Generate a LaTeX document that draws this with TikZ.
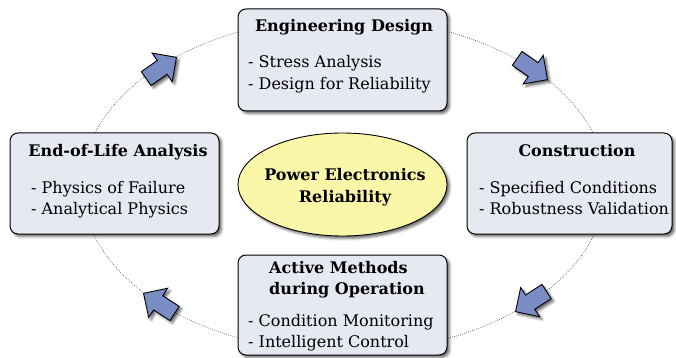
\documentclass[tikz,border=0pt]{standalone}
\usepackage{fontspec}
\setmainfont{DejaVu Serif}
\usetikzlibrary{shapes.geometric,shapes.arrows,shadows.blur}
\definecolor{boxfill}{RGB}{230,232,242}
\definecolor{ellfill}{RGB}{250,248,168}
\definecolor{arrfill}{RGB}{122,140,196}
\begin{document}
\begin{tikzpicture}[x=1pt,y=-1pt,
  shad/.style={blur shadow={shadow xshift=2.5pt, shadow yshift=-2.5pt, shadow blur radius=2.5pt, shadow opacity=60}},
  stage/.style={draw=black, line width=1pt, fill=boxfill, rounded corners=8pt, inner sep=0pt, shad},
  centre/.style={ellipse, draw=black, line width=0.9pt, fill=ellfill, inner sep=0pt, minimum width=209pt, minimum height=103pt, shad},
  flow/.style={single arrow, draw=black, line width=0.9pt, fill=arrfill, inner sep=8pt, minimum height=37pt, single arrow head extend=9pt, anchor=tip, shad},
  ttl/.style={font=\fontsize{16}{19}\selectfont\bfseries, anchor=base, inner sep=0pt},
  ttlw/.style={font=\fontsize{16}{19}\selectfont\bfseries, anchor=base west, inner sep=0pt},
  itm/.style={font=\fontsize{16}{19}\selectfont, anchor=base west, inner sep=0pt},
  loop/.style={draw=black!75, line width=0.6pt, dash pattern=on 0.7pt off 1.4pt}
]
\useasboundingbox (0,0) rectangle (676,358);
\path[loop] (344,185) ellipse [x radius=262, y radius=167];

\node[stage, minimum width=209pt, minimum height=102pt] (eng) at (342.5,60) {};
\node[ttl] (engT) at (344,32) {Engineering Design};
\node[itm] (eng1) at (248,68) {- Stress Analysis};
\node[itm] (eng2) at (248,90) {- Design for Reliability};

\node[stage, minimum width=209pt, minimum height=101pt] (eol) at (114.5,183.5) {};
\node[ttl] (eolT) at (118,157) {End-of-Life Analysis};
\node[itm] (eol1) at (31,193) {- Physics of Failure};
\node[itm] (eol2) at (31,214) {- Analytical Physics};

\node[stage, minimum width=205pt, minimum height=101pt] (con) at (569.5,183.5) {};
\node[ttl] (conT) at (577,157) {Construction};
\node[itm] (con1) at (479,193) {- Specified Conditions};
\node[itm] (con2) at (479,214) {- Robustness Validation};

\node[stage, minimum width=209pt, minimum height=100pt] (act) at (342.5,305) {};
\node[ttlw] (actT1) at (269,273) {Active Methods};
\node[ttlw] (actT2) at (269,294) {during Operation};
\node[itm] (act1) at (248,326) {- Condition Monitoring};
\node[itm] (act2) at (248,347) {- Intelligent Control};

\node[centre] (pe) at (342.5,184.5) {};
\node[ttl] (peT1) at (345,180) {Power Electronics};
\node[ttl] (peT2) at (345,202) {Reliability};

\node[flow, rotate=35] (a1) at (177,57) {};
\node[flow, rotate=-35] (a2) at (548,80) {};
\node[flow, rotate=-147] (a3) at (515,312) {};
\node[flow, rotate=147] (a4) at (143,293) {};
\end{tikzpicture}
\end{document}
